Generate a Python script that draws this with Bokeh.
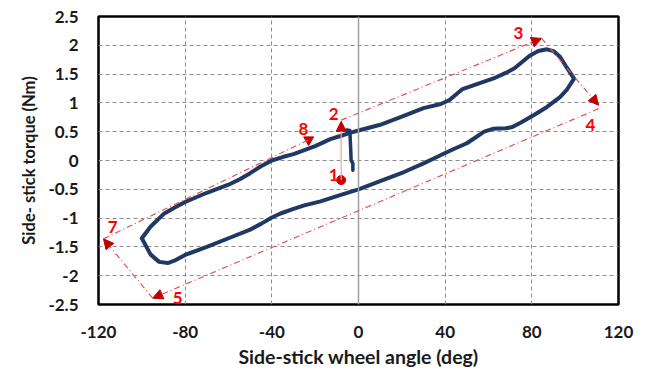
from bokeh.plotting import figure
from bokeh.models import (Range1d, FixedTicker, Span, Arrow, NormalHead, ColumnDataSource, Label)
from bokeh.embed import file_html
from bokeh.resources import INLINE

# ---- data ----
loop_x = [-100, -96, -90, -85, -80, -70, -60, -55, -50, -45, -40, -35, -30, -25, -20, -13, -8, -4, 0,
          10, 20, 30, 38, 42, 48, 55, 62, 68, 72, 79, 83, 87, 90, 93, 96, 99.5,
          96, 93, 87, 81, 75, 71, 68, 62, 58, 54, 50, 44, 40, 35, 30, 21, 10, 0, -10, -17.5,
          -25, -30, -36, -40, -45, -50, -60, -70, -80, -85, -88, -92, -96, -100]
loop_y = [-1.35, -1.15, -0.93, -0.82, -0.72, -0.56, -0.42, -0.33, -0.22, -0.1, 0.0, 0.06, 0.11, 0.18, 0.25, 0.37, 0.43, 0.48, 0.52,
          0.62, 0.76, 0.91, 0.98, 1.05, 1.24, 1.33, 1.42, 1.52, 1.6, 1.82, 1.9, 1.93, 1.9, 1.8, 1.62, 1.42,
          1.22, 1.1, 0.93, 0.79, 0.66, 0.58, 0.56, 0.55, 0.5, 0.4, 0.3, 0.2, 0.13, 0.04, -0.05, -0.2, -0.36, -0.5, -0.62, -0.71,
          -0.78, -0.84, -0.92, -0.99, -1.1, -1.2, -1.35, -1.5, -1.64, -1.74, -1.78, -1.76, -1.63, -1.35]
stroke_x = [-5.5, -4.0, -3.6, -3.4, -2.6, -2.6]
stroke_y = [0.53, 0.52, 0.2, 0.0, -0.05, -0.17]
start_x = [-8.0]
start_y = [-0.34]
path_x_start = [-8.0, -8.0, 84.5, 110.8, -95.0, -117.7]
path_y_start = [-0.34, 0.70, 2.12, 0.90, -2.39, -1.36]
path_x_end = [-8.0, 84.5, 110.8, -95.0, -117.7, -23.0]
path_y_end = [0.68, 2.12, 0.96, -2.39, -1.36, 0.36]
point_labels = ["1", "2", "3", "4", "5", "7", "8"]
label_x = [-11.5, -11.5, 73.8, 107.0, -83.5, -113.5, -25.4]
label_y = [-0.25, 0.81, 2.21, 0.62, -2.38, -1.15, 0.55]
x_ticks = [-120, -80, -40, 0, 40, 80, 120]
y_ticks = [-2.5, -2, -1.5, -1, -0.5, 0, 0.5, 1, 1.5, 2, 2.5]
x_tick_labels = ["-120", "-80", "-40", "0", "40", "80", "120"]
y_tick_labels = ["-2.5", "-2", "-1.5", "-1", "-0.5", "0", "0.5", "1", "1.5", "2", "2.5"]

FONT = "Lato"
RED_LINE = "#e05555"
RED_HEAD = "#c00000"

p = figure(width=650, height=372, output_backend="svg", toolbar_location=None,
           x_range=Range1d(-120, 120), y_range=Range1d(-2.5, 2.5),
           min_border_left=98, min_border_right=32, min_border_top=16, min_border_bottom=68)
p.background_fill_color = "white"
p.border_fill_color = "white"
p.outline_line_color = "black"
p.outline_line_width = 2.5

p.xaxis.ticker = FixedTicker(ticks=x_ticks)
p.yaxis.ticker = FixedTicker(ticks=y_ticks)
p.xaxis.major_label_overrides = {t: s for t, s in zip(x_ticks, x_tick_labels)}
p.yaxis.major_label_overrides = {t: s for t, s in zip(y_ticks, y_tick_labels)}
for ax in (p.xaxis, p.yaxis):
    ax.major_tick_out = 0
    ax.major_tick_in = 0
    ax.minor_tick_out = 0
    ax.minor_tick_in = 0
    ax.axis_line_color = None
    ax.major_label_text_font = FONT
    ax.major_label_text_font_style = "bold"
    ax.major_label_text_font_size = "17px"
    ax.major_label_text_color = "#1a1a1a"
    ax.axis_label_text_font = FONT
    ax.axis_label_text_font_style = "bold"
    ax.axis_label_text_color = "#1a1a1a"
p.xaxis.axis_label_text_font_size = "19.5px"
p.yaxis.axis_label_text_font_size = "16.5px"
p.xaxis.major_label_standoff = 21
p.yaxis.major_label_standoff = 20
p.xaxis.axis_label = "Side-stick wheel angle (deg)"
p.yaxis.axis_label = "Side- stick torque (Nm)"
p.xaxis.axis_label_standoff = 4
p.yaxis.axis_label_standoff = 6

for g in (p.xgrid, p.ygrid):
    g.grid_line_color = "#8c8c8c"
    g.grid_line_dash = "4 3"
    g.grid_line_width = 1

p.add_layout(Span(location=0, dimension="height", line_color="#a0a0a0", line_width=1.5))

# main loop
p.line(loop_x, loop_y, line_color="#1f3864", line_width=4, line_join="round", line_cap="round")
p.line(stroke_x, stroke_y, line_color="#1f3864", line_width=3.5, line_join="round", line_cap="round")

# annotation path
src = ColumnDataSource(dict(xs=path_x_start[1:5], ys=path_y_start[1:5], xe=path_x_end[1:5], ye=path_y_end[1:5]))
p.add_layout(Arrow(source=src, x_start="xs", y_start="ys", x_end="xe", y_end="ye",
                   line_color=RED_LINE, line_width=1.2, line_dash="6 3 1 3",
                   end=NormalHead(size=10, fill_color=RED_HEAD, line_color=RED_HEAD)))
src_last = ColumnDataSource(dict(xs=path_x_start[5:], ys=path_y_start[5:], xe=path_x_end[5:], ye=path_y_end[5:]))
p.add_layout(Arrow(source=src_last, x_start="xs", y_start="ys", x_end="xe", y_end="ye",
                   line_color=RED_LINE, line_width=1.2, line_dash="6 3 1 3", end=None))
p.scatter(path_x_end[5:], path_y_end[5:], marker="inverted_triangle", size=10,
          color=RED_HEAD)
src1 = ColumnDataSource(dict(xs=path_x_start[:1], ys=path_y_start[:1], xe=path_x_end[:1], ye=path_y_end[:1]))
p.add_layout(Arrow(source=src1, x_start="xs", y_start="ys", x_end="xe", y_end="ye",
                   line_color="#f2a0a0", line_width=1.2,
                   end=NormalHead(size=10, fill_color=RED_HEAD, line_color=RED_HEAD)))
p.scatter(start_x, start_y, size=9, color="#d00000")

for t, lx, ly in zip(point_labels, label_x, label_y):
    p.add_layout(Label(x=lx, y=ly, text=t, text_color="#ff0000", text_font=FONT,
                       text_font_style="bold", text_font_size="17px",
                       text_align="center", text_baseline="middle"))

open("out.html", "w").write(file_html(p, INLINE))
